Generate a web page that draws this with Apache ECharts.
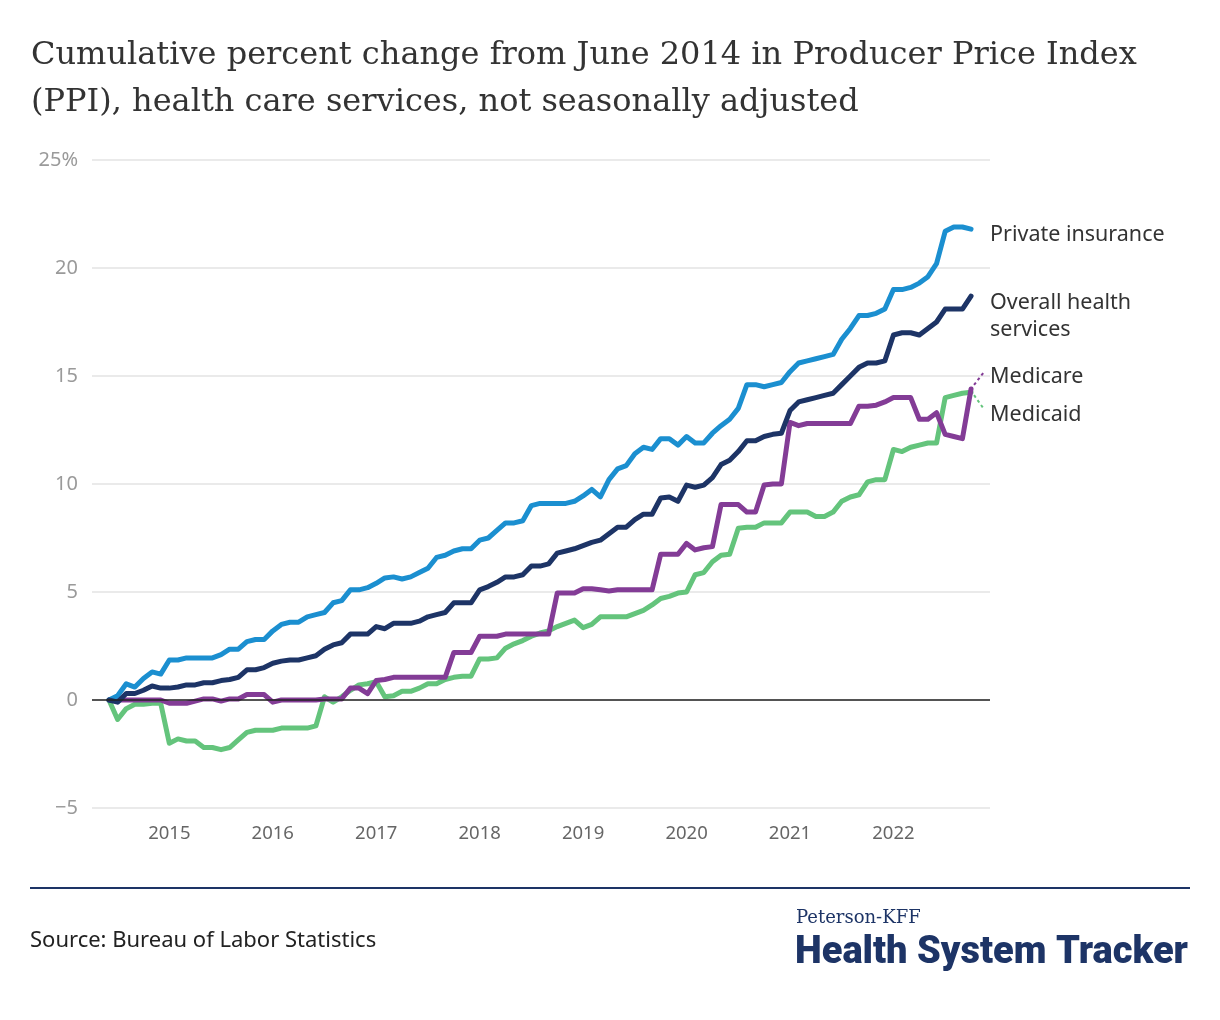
<!DOCTYPE html>
<html>
<head>
<meta charset="utf-8">
<script src="https://cdn.jsdelivr.net/npm/echarts@6/dist/echarts.min.js"></script>
<style>
  html, body { margin: 0; padding: 0; background: #fff; }
  #chart { width: 1220px; height: 1020px; }
</style>
</head>
<body>
<div id="chart"></div>
<script>
// Monthly observations, June 2014 (index 0) through October 2022 (index 100)
const startYear = 2014;
const startMonth = 6; // June

const privateInsurance = [
  0, 0.2, 0.75, 0.6, 1.0, 1.3, 1.2, 1.85, 1.85, 1.95,
  1.95, 1.95, 1.95, 2.1, 2.35, 2.35, 2.7, 2.8, 2.8, 3.2,
  3.5, 3.6, 3.6, 3.85, 3.95, 4.05, 4.5, 4.6, 5.1, 5.1,
  5.2, 5.4, 5.65, 5.7, 5.6, 5.7, 5.9, 6.1, 6.6, 6.7,
  6.9, 7.0, 7.0, 7.4, 7.5, 7.85, 8.2, 8.2, 8.3, 9.0,
  9.1, 9.1, 9.1, 9.1, 9.2, 9.45, 9.75, 9.4, 10.2, 10.7,
  10.85, 11.4, 11.7, 11.6, 12.1, 12.1, 11.8, 12.2, 11.9, 11.9,
  12.35, 12.7, 13.0, 13.5, 14.6, 14.6, 14.5, 14.6, 14.7, 15.2,
  15.6, 15.7, 15.8, 15.9, 16.0, 16.7, 17.2, 17.8, 17.8, 17.9,
  18.1, 19.0, 19.0, 19.1, 19.3, 19.6, 20.2, 21.7, 21.9, 21.9,
  21.8
];

const overallHealth = [
  0, -0.1, 0.3, 0.3, 0.45, 0.65, 0.55, 0.55, 0.6, 0.7,
  0.7, 0.8, 0.8, 0.9, 0.95, 1.05, 1.4, 1.4, 1.5, 1.7,
  1.8, 1.85, 1.85, 1.95, 2.05, 2.35, 2.55, 2.65, 3.05, 3.05,
  3.05, 3.4, 3.3, 3.55, 3.55, 3.55, 3.65, 3.85, 3.95, 4.05,
  4.5, 4.5, 4.5, 5.1, 5.25, 5.45, 5.7, 5.7, 5.8, 6.2,
  6.2, 6.3, 6.8, 6.9, 7.0, 7.15, 7.3, 7.4, 7.7, 8.0,
  8.0, 8.35, 8.6, 8.6, 9.35, 9.4, 9.2, 9.95, 9.85, 9.95,
  10.3, 10.9, 11.1, 11.5, 12.0, 12.0, 12.2, 12.3, 12.35, 13.4,
  13.8, 13.9, 14.0, 14.1, 14.2, 14.6, 15.0, 15.4, 15.6, 15.6,
  15.7, 16.9, 17.0, 17.0, 16.9, 17.2, 17.5, 18.1, 18.1, 18.1,
  18.7
];

const medicare = [
  0, 0, 0, 0, 0, 0, 0, -0.15, -0.15, -0.15,
  -0.05, 0.05, 0.05, -0.05, 0.05, 0.05, 0.25, 0.25, 0.25, -0.1,
  0, 0, 0, 0, 0, 0.05, 0.05, 0.05, 0.55, 0.55,
  0.3, 0.9, 0.95, 1.05, 1.05, 1.05, 1.05, 1.05, 1.05, 1.05,
  2.2, 2.2, 2.2, 2.95, 2.95, 2.95, 3.05, 3.05, 3.05, 3.05,
  3.05, 3.05, 4.95, 4.95, 4.95, 5.15, 5.15, 5.1, 5.05, 5.1,
  5.1, 5.1, 5.1, 5.1, 6.75, 6.75, 6.75, 7.25, 6.95, 7.05,
  7.1, 9.05, 9.05, 9.05, 8.7, 8.7, 9.95, 10.0, 10.0, 12.85,
  12.7, 12.8, 12.8, 12.8, 12.8, 12.8, 12.8, 13.6, 13.6, 13.65,
  13.8, 14.0, 14.0, 14.0, 13.0, 13.0, 13.3, 12.3, 12.2, 12.1,
  14.4
];

const medicaid = [
  0, -0.9, -0.4, -0.2, -0.2, -0.15, -0.15, -2.0, -1.8, -1.9,
  -1.9, -2.2, -2.2, -2.3, -2.2, -1.85, -1.5, -1.4, -1.4, -1.4,
  -1.3, -1.3, -1.3, -1.3, -1.2, 0.15, -0.1, 0.15, 0.45, 0.7,
  0.75, 0.85, 0.15, 0.2, 0.4, 0.4, 0.55, 0.75, 0.75, 0.95,
  1.05, 1.1, 1.1, 1.9, 1.9, 1.95, 2.4, 2.6, 2.75, 2.95,
  3.1, 3.2, 3.4, 3.55, 3.7, 3.35, 3.5, 3.85, 3.85, 3.85,
  3.85, 4.0, 4.15, 4.4, 4.7, 4.8, 4.95, 5.0, 5.8, 5.9,
  6.4, 6.7, 6.75, 7.95, 8.0, 8.0, 8.2, 8.2, 8.2, 8.7,
  8.7, 8.7, 8.5, 8.5, 8.7, 9.2, 9.4, 9.5, 10.1, 10.2,
  10.2, 11.6, 11.5, 11.7, 11.8, 11.9, 11.9, 14.0, 14.1, 14.2,
  14.25
];

const seriesNames = ['Medicaid', 'Medicare', 'Private insurance', 'Overall health services'];
const seriesLabels = ['Medicaid', 'Medicare', 'Private insurance', 'Overall health\nservices'];
const seriesColors = ['#64c47c', '#833c96', '#1b8fd0', '#1d3466'];
const seriesData = [medicaid, medicare, privateInsurance, overallHealth];

const yearLabels = ['2015', '2016', '2017', '2018', '2019', '2020', '2021', '2022'];
const yTicks = [-5, 0, 5, 10, 15, 20, 25];

const titleLines = [
  'Cumulative percent change from June 2014 in Producer Price Index',
  '(PPI), health care services, not seasonally adjusted'
];
const sourceText = 'Source: Bureau of Labor Statistics';

// month index of January of each labelled year
const yearTickIdx = yearLabels.map(y => (Number(y) - startYear) * 12 - (startMonth - 1));

const labelOffsets = [[19, 23], [19, -12], [19, 6], [19, 20]];

const chart = echarts.init(document.getElementById('chart'), null, { renderer: 'canvas' });

const sans = '"Noto Sans", "Open Sans", sans-serif';

const series = seriesData.map((vals, k) => ({
  name: seriesNames[k],
  type: 'line',
  data: vals.map((v, i) => [i, v]),
  showSymbol: false,
  symbol: 'none',
  lineStyle: { color: seriesColors[k], width: 5, cap: 'round', join: 'round' },
  itemStyle: { color: seriesColors[k] },
  emphasis: { disabled: true },
  silent: true,
  endLabel: {
    show: true,
    formatter: seriesLabels[k],
    color: '#333',
    fontFamily: sans,
    fontSize: 21.5,
    lineHeight: 27,
    align: 'left',
    verticalAlign: 'middle',
    distance: 0,
    offset: labelOffsets[k]
  },
  z: 2 + k
}));

// zero line above the series
series[series.length - 1].markLine = {
  silent: true,
  symbol: 'none',
  label: { show: false },
  lineStyle: { color: '#222', width: 1.5, type: 'solid' },
  data: [{ yAxis: 0 }],
  z: 20
};

chart.setOption({
  animation: false,
  backgroundColor: '#fff',
  grid: { left: 92, right: 230, top: 160, bottom: 212, containLabel: false },
  xAxis: {
    type: 'value',
    min: -1.97,
    max: 102.2,
    splitLine: { show: false },
    axisLine: { show: false },
    axisTick: { show: false },
    axisLabel: {
      customValues: yearTickIdx,
      formatter: v => yearLabels[yearTickIdx.indexOf(Math.round(v))] || '',
      color: '#666',
      fontFamily: sans,
      fontSize: 18.5,
      margin: 16
    }
  },
  yAxis: {
    type: 'value',
    min: yTicks[0],
    max: yTicks[yTicks.length - 1],
    interval: 5,
    axisLine: { show: false },
    axisTick: { show: false },
    splitLine: { show: true, lineStyle: { color: '#e3e3e3', width: 1.5 } },
    axisLabel: {
      formatter: v => v === 25 ? '25%' : (v < 0 ? '\u2212' + Math.abs(v) : String(v)),
      color: '#9a9a9a',
      fontFamily: sans,
      fontSize: 20,
      align: 'right',
      margin: 14
    }
  },
  series: series,
  graphic: [
    {
      id: 'title', type: 'text', left: 31, top: 32,
      style: {
        text: titleLines.join('\n'),
        font: '400 32px "DejaVu Serif", serif',
        lineHeight: 47,
        fill: '#333'
      }
    },
    {
      id: 'rule', type: 'rect', shape: { x: 30, y: 887, width: 1160, height: 2 },
      style: { fill: '#1d3466' }
    },
    {
      id: 'source', type: 'text', left: 30, top: 930,
      style: { text: sourceText, font: '400 22px "Noto Sans", "Open Sans", sans-serif', fill: '#222' }
    },
    {
      id: 'logo1', type: 'text', left: 796, top: 909,
      style: { text: 'Peterson-KFF', font: '400 18px "DejaVu Serif", serif', fill: '#1d3466' }
    },
    {
      id: 'logo2', type: 'text', left: 795, top: 934,
      style: { text: 'Health System Tracker', font: '900 38px Roboto, "Noto Sans", sans-serif', fill: '#1d3466' }
    }
  ]
});

// dashed leader lines from the Medicare / Medicaid end points toward their labels
const lastIdx = medicare.length - 1;
const pMedicare = chart.convertToPixel({ gridIndex: 0 }, [lastIdx, medicare[lastIdx]]);
const pMedicaid = chart.convertToPixel({ gridIndex: 0 }, [lastIdx, medicaid[lastIdx]]);
chart.setOption({
  graphic: [
    {
      id: 'leaderMedicare', type: 'line', silent: true, z: 30,
      shape: { x1: pMedicare[0] + 3, y1: pMedicare[1] - 4, x2: pMedicare[0] + 13, y2: pMedicare[1] - 17 },
      style: { stroke: seriesColors[1], lineWidth: 2, lineDash: [3, 3], fill: null }
    },
    {
      id: 'leaderMedicaid', type: 'line', silent: true, z: 30,
      shape: { x1: pMedicaid[0] + 3, y1: pMedicaid[1] + 3, x2: pMedicaid[0] + 13, y2: pMedicaid[1] + 17 },
      style: { stroke: seriesColors[0], lineWidth: 2, lineDash: [3, 3], fill: null }
    }
  ]
});
</script>
</body>
</html>
